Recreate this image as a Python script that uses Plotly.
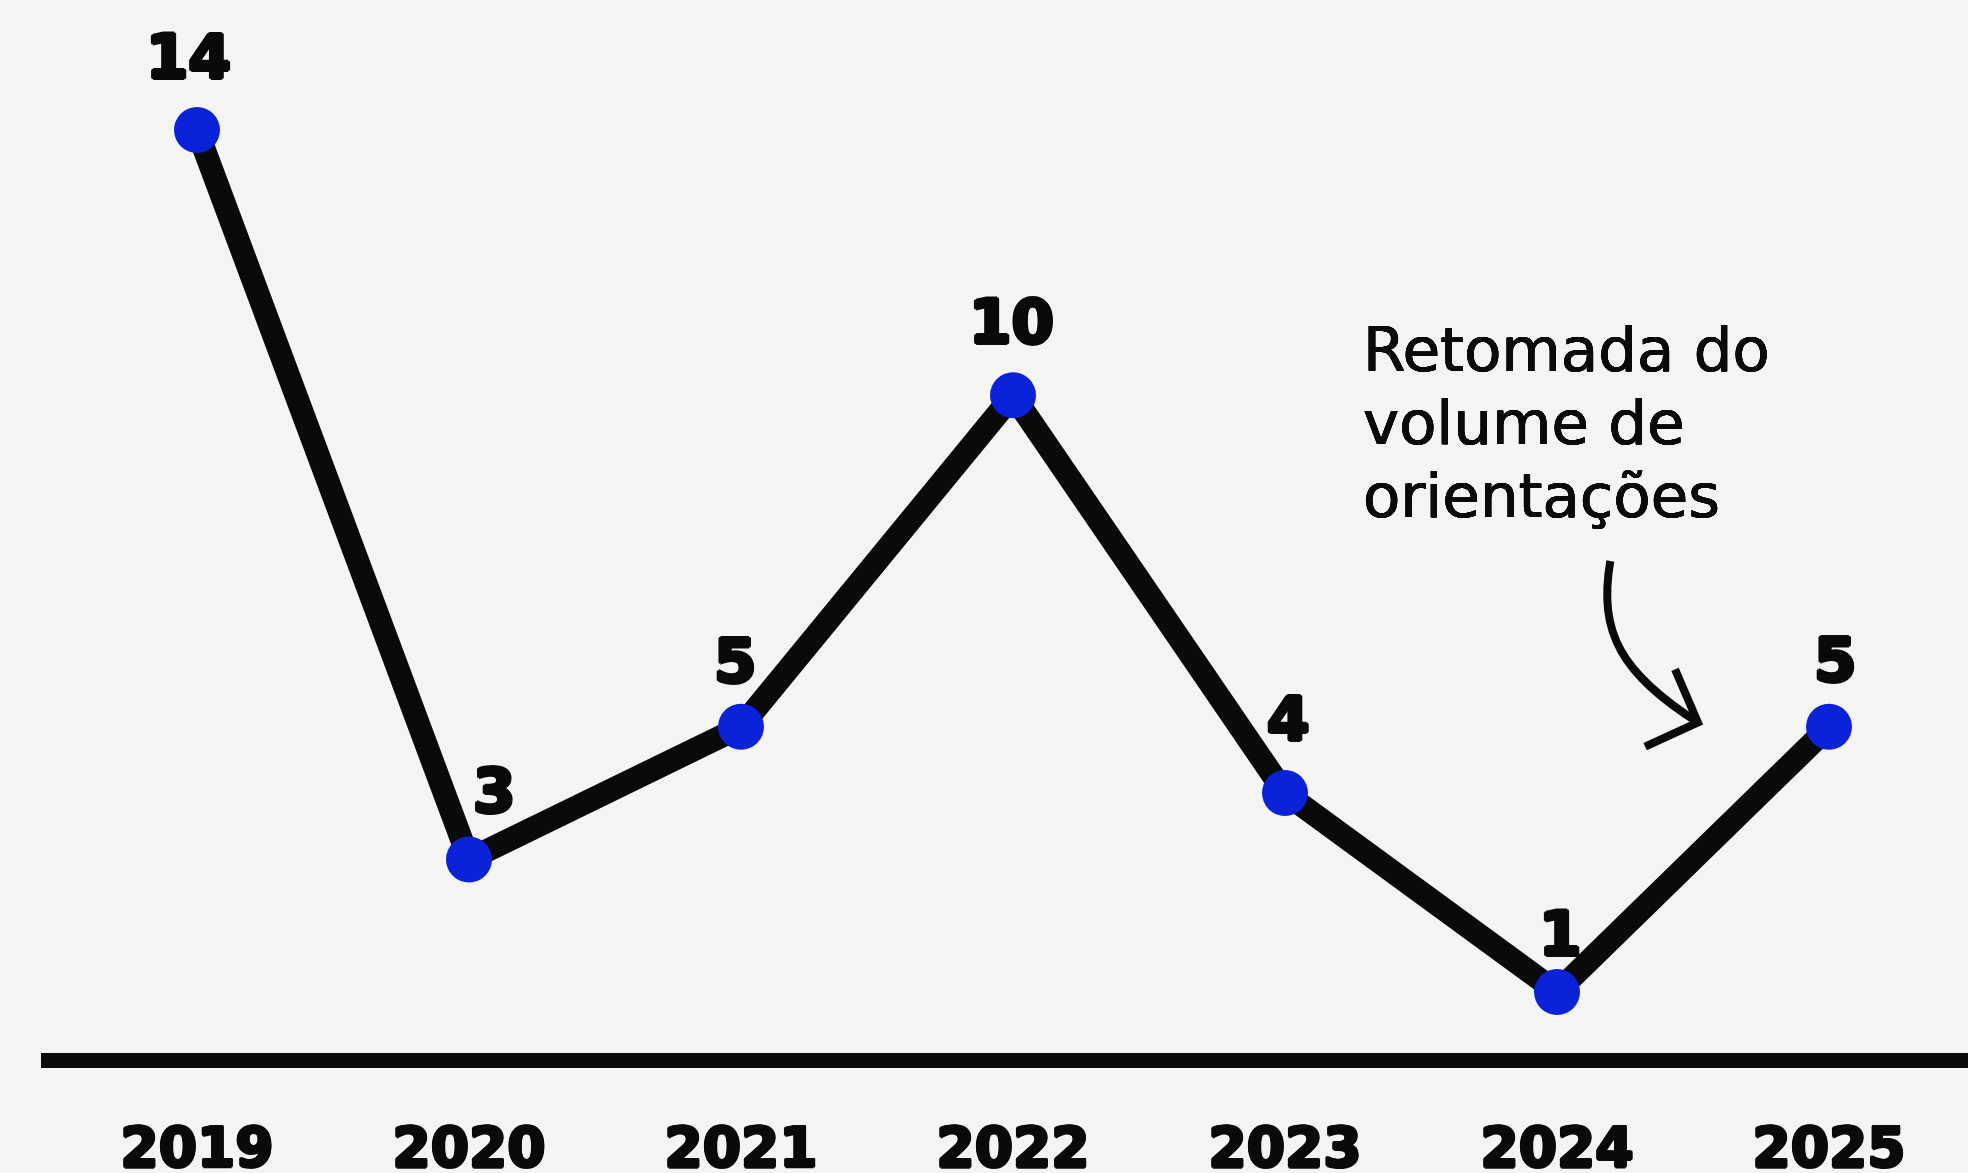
import plotly.graph_objects as go

# ---- data ----
years = [2019, 2020, 2021, 2022, 2023, 2024, 2025]
values = [14, 3, 5, 10, 4, 1, 5]
tick_labels = ["2019", "2020", "2021", "2022", "2023", "2024", "2025"]
note_lines = ["Retomada do", "volume de", "orientações"]

# label nudges in pixels (dx, dy) for each point label
label_dx = [-9, 25, -6, -2, 3, 3, 6]
label_dy = [73, 69, 66, 74, 75, 58, 67]

BG = "#f4f4f2"
BLUE = "#0b22d8"
INK = "#0a0a0a"


def stroke(px, c=INK):
    d = px * 0.707
    parts = [(px, 0), (-px, 0), (0, px), (0, -px), (d, d), (-d, d), (d, -d), (-d, -d)]
    return ", ".join(f"{a:.1f}px {b:.1f}px 0 {c}" for a, b in parts)


fig = go.Figure()

fig.add_trace(go.Scatter(
    x=years, y=values,
    mode="lines+markers",
    line=dict(color=INK, width=23),
    marker=dict(color=BLUE, size=46, line=dict(width=0)),
    cliponaxis=False,
    hoverinfo="skip",
))

for x, v, dx, dy in zip(years, values, label_dx, label_dy):
    fig.add_annotation(
        x=x, y=v, text=str(v), showarrow=False,
        xshift=dx, yshift=dy,
        font=dict(family="DejaVu Sans, sans-serif", size=61, color=INK,
                  weight="bold", shadow=stroke(2)),
    )

# note text, one annotation per line
for i, line in enumerate(note_lines):
    fig.add_annotation(
        x=2023.28, y=11.26, xref="x", yref="y",
        text=line, showarrow=False,
        xanchor="left", yanchor="top", align="left",
        yshift=-73 * i,
        font=dict(family="DejaVu Sans, sans-serif", size=61, color=INK,
                  shadow=stroke(0.4)),
    )

# curved arrow
fig.add_shape(
    type="path",
    path="M 2024.196,7.50 C 2024.150,6.40 2024.240,5.80 2024.518,5.064",
    line=dict(color=INK, width=8), xref="x", yref="y",
)
fig.add_shape(
    type="path",
    path="M 2024.434,5.865 L 2024.518,5.064 L 2024.324,4.70",
    line=dict(color=INK, width=8), xref="x", yref="y",
)

fig.update_layout(
    width=1968, height=1173,
    margin=dict(l=41, r=0, t=0, b=120),
    paper_bgcolor=BG, plot_bgcolor=BG,
    showlegend=False,
)

fig.update_xaxes(
    range=[2019 - 156 / 272, 2019 + 1771 / 272],
    tickmode="array", tickvals=years, ticktext=tick_labels,
    showgrid=False, zeroline=False,
    showline=True, linewidth=15, linecolor=INK,
    ticks="outside", ticklen=32, tickcolor="rgba(0,0,0,0)",
    tickfont=dict(family="DejaVu Sans, sans-serif", size=55, color=INK,
                  weight="bold", shadow=stroke(1.5)),
    automargin=False,
)
fig.update_yaxes(
    range=[0.08, 15.96],
    showgrid=False, zeroline=False, showline=False,
    showticklabels=False, ticks="",
    automargin=False,
)

fig.write_html(
    "out.html",
    config={"displayModeBar": False},
    post_script="document.body.style.margin='0';document.body.style.overflow='hidden';",
)
